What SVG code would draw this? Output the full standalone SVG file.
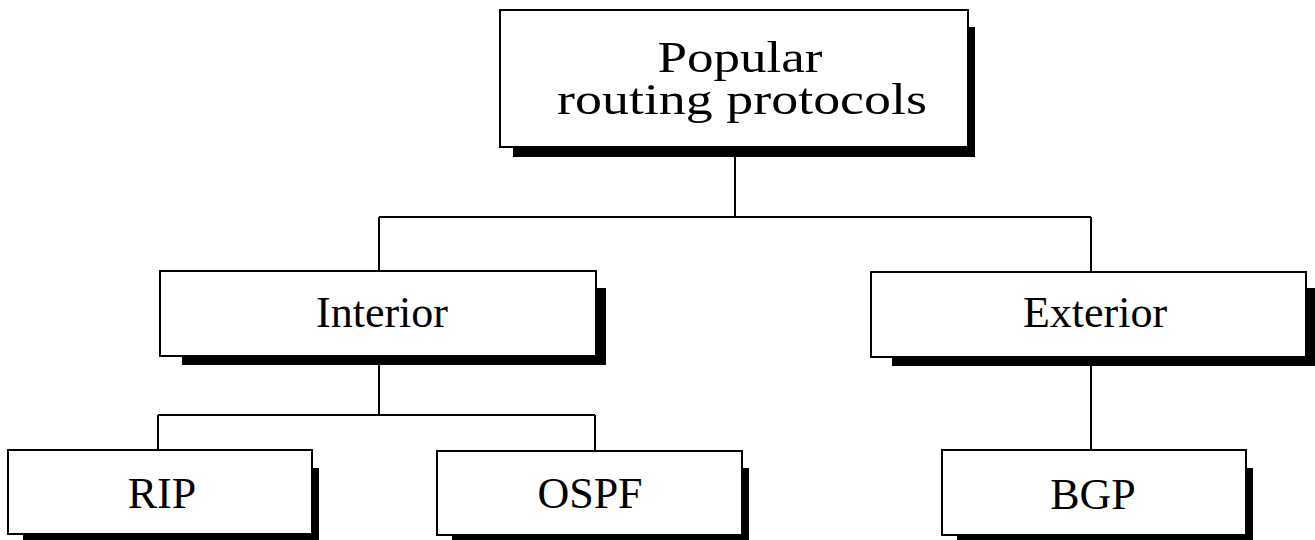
<svg xmlns="http://www.w3.org/2000/svg" width="1315" height="540" viewBox="0 0 1315 540">
<style>
.shadow{fill:#000;stroke:none}
.box{fill:#fff;stroke:#000;stroke-width:2}
.lbl{font-family:"Liberation Serif","Times New Roman",serif;font-size:44px;fill:#000;text-anchor:middle}
.big{font-size:45px}
.conn{fill:none;stroke:#000;stroke-width:2}
</style>
<rect width="1315" height="540" fill="#fff"/>
<g id="connectors">
<path class="conn" d="M735,147 V217 M379,217 H1091 M379,217 V271 M1091,217 V272"/>
<path class="conn" d="M379,356 V415 M158,415 H595 M158,415 V450 M595,415 V451"/>
<path class="conn" d="M1091,357 V450"/>
</g>
<g id="node-popular">
<rect class="shadow" x="513" y="27" width="462" height="130"/>
<rect class="box" x="500" y="10" width="468" height="137"/>
<text class="lbl big" x="740" y="72" textLength="165" lengthAdjust="spacingAndGlyphs">Popular</text>
<text class="lbl big" x="742" y="114" textLength="370" lengthAdjust="spacingAndGlyphs">routing protocols</text>
</g>
<g id="node-interior">
<rect class="shadow" x="182" y="288" width="424" height="77"/>
<rect class="box" x="160" y="271" width="436" height="85"/>
<text class="lbl" x="382" y="327">Interior</text>
</g>
<g id="node-exterior">
<rect class="shadow" x="892" y="288" width="423" height="78"/>
<rect class="box" x="871" y="272" width="435" height="85"/>
<text class="lbl" x="1095" y="327">Exterior</text>
</g>
<g id="node-rip">
<rect class="shadow" x="23" y="468" width="296" height="80"/>
<rect class="box" x="8" y="450" width="304" height="84"/>
<text class="lbl" x="162" y="508">RIP</text>
</g>
<g id="node-ospf">
<rect class="shadow" x="452" y="468" width="297" height="80"/>
<rect class="box" x="437" y="451" width="305" height="84"/>
<text class="lbl" x="590" y="508">OSPF</text>
</g>
<g id="node-bgp">
<rect class="shadow" x="957" y="468" width="296" height="80"/>
<rect class="box" x="942" y="450" width="304" height="85"/>
<text class="lbl" x="1093" y="509">BGP</text>
</g>
</svg>
